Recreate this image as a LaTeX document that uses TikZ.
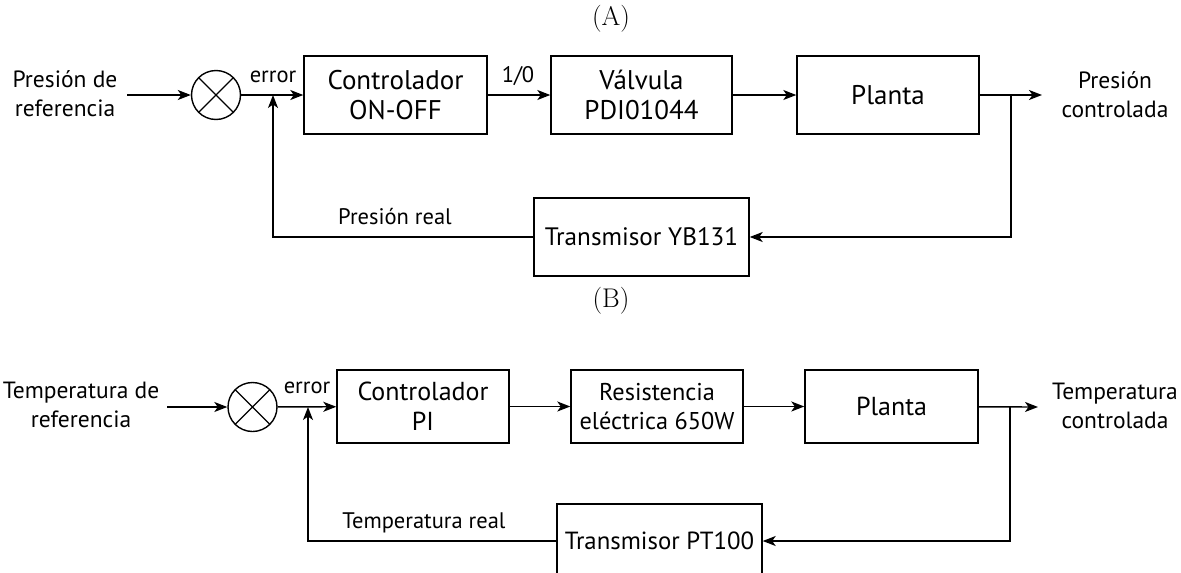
\documentclass[tikz,border=0pt]{standalone}
\usepackage{fontspec}
\newfontfamily\diagfont{PT Sans}
\usetikzlibrary{arrows.meta}
\tikzset{
  block/.style={draw, line width=1.4pt, inner sep=0pt, align=center,
    font=\diagfont\fontsize{26}{30}\selectfont},
  sumnode/.style={circle, draw, line width=1.4pt, minimum size=49pt, inner sep=0pt,
    path picture={\draw[line width=1.4pt]
      (path picture bounding box.north west) -- (path picture bounding box.south east)
      (path picture bounding box.north east) -- (path picture bounding box.south west);}},
  side/.style={align=center, inner sep=0pt, font=\diagfont\fontsize{23.5}{29}\selectfont},
  lbl/.style={inner sep=0pt, font=\diagfont\fontsize{22.5}{26}\selectfont},
  title/.style={font=\fontsize{27}{32}\selectfont},
  sig/.style={line width=1.4pt, -{Stealth[length=13pt,width=10pt,inset=3.5pt]}}
}
\begin{document}
\begin{tikzpicture}[x=1pt, y=-1pt]
\useasboundingbox (0,0) rectangle (1181,573);

\node[title] (titleA) at (611,19) {(A)};
\node[side] (refA) at (65,94) {Presión de\\referencia};
\coordinate (inA) at (127,95);
\node[sumnode] (sumA) at (216,95) {};
\node[block, minimum width=183pt, minimum height=78pt, font=\diagfont\fontsize{27}{30}\selectfont] (ctrlA) at (395.5,95) {Controlador\\ON-OFF};
\node[block, minimum width=181pt, minimum height=78pt, font=\diagfont\fontsize{27}{30}\selectfont] (valveA) at (641.5,95) {Válvula\\PDI01044};
\node[block, minimum width=182pt, minimum height=78pt, font=\diagfont\fontsize{27}{30}\selectfont] (plantA) at (888,95) {Planta};
\node[block, minimum width=215pt, minimum height=78pt, font=\diagfont\fontsize{25.2}{30}\selectfont] (transA) at (641.5,237) {Transmisor YB131};
\node[side] (outA) at (1115,95) {Presión\\controlada};
\coordinate (joinA) at (273,95);
\coordinate (forkA) at (1011,95);
\coordinate (tipA) at (1042,95);
\node[lbl] (errA) at (273,77) {error};
\node[lbl] (onoffA) at (518,76) {1/0};
\node[lbl] (realA) at (395,217) {Presión real};

\draw[sig] (inA) -- (sumA);
\draw[sig] (sumA) -- (ctrlA);
\draw[sig] (ctrlA) -- (valveA);
\draw[sig] (valveA) -- (plantA);
\draw[sig] (plantA) -- (tipA);
\draw[sig] (forkA) |- (transA.east);
\draw[sig] (transA.west) -| (joinA);

\node[title] (titleB) at (611,301) {(B)};
\node[side] (refB) at (81,405) {Temperatura de\\referencia};
\coordinate (inB) at (167,407);
\node[sumnode] (sumB) at (252.5,407) {};
\node[block, minimum width=172pt, minimum height=73pt] (ctrlB) at (423,406.5) {Controlador\\PI};
\node[block, minimum width=172pt, minimum height=73pt, font=\diagfont\fontsize{24.3}{29}\selectfont] (heatB) at (657,406.5) {Resistencia\\eléctrica 650W};
\node[block, minimum width=173pt, minimum height=73pt] (plantB) at (891.5,406.5) {Planta};
\node[block, minimum width=205pt, minimum height=74pt, font=\diagfont\fontsize{24.8}{29}\selectfont] (transB) at (659.5,541) {Transmisor PT100};
\node[side] (outB) at (1115,406) {Temperatura\\controlada};
\coordinate (joinB) at (308,407);
\coordinate (forkB) at (1010,407);
\coordinate (tipB) at (1038,407);
\node[lbl] (errB) at (307,388) {error};
\node[lbl] (realB) at (424,523) {Temperatura real};

\draw[sig] (inB) -- (sumB);
\draw[sig] (sumB) -- (ctrlB);
\draw[sig] (ctrlB) -- (heatB);
\draw[sig] (heatB) -- (plantB);
\draw[sig] (plantB) -- (tipB);
\draw[sig] (forkB) |- (transB.east);
\draw[sig] (transB.west) -| (joinB);
\end{tikzpicture}
\end{document}
